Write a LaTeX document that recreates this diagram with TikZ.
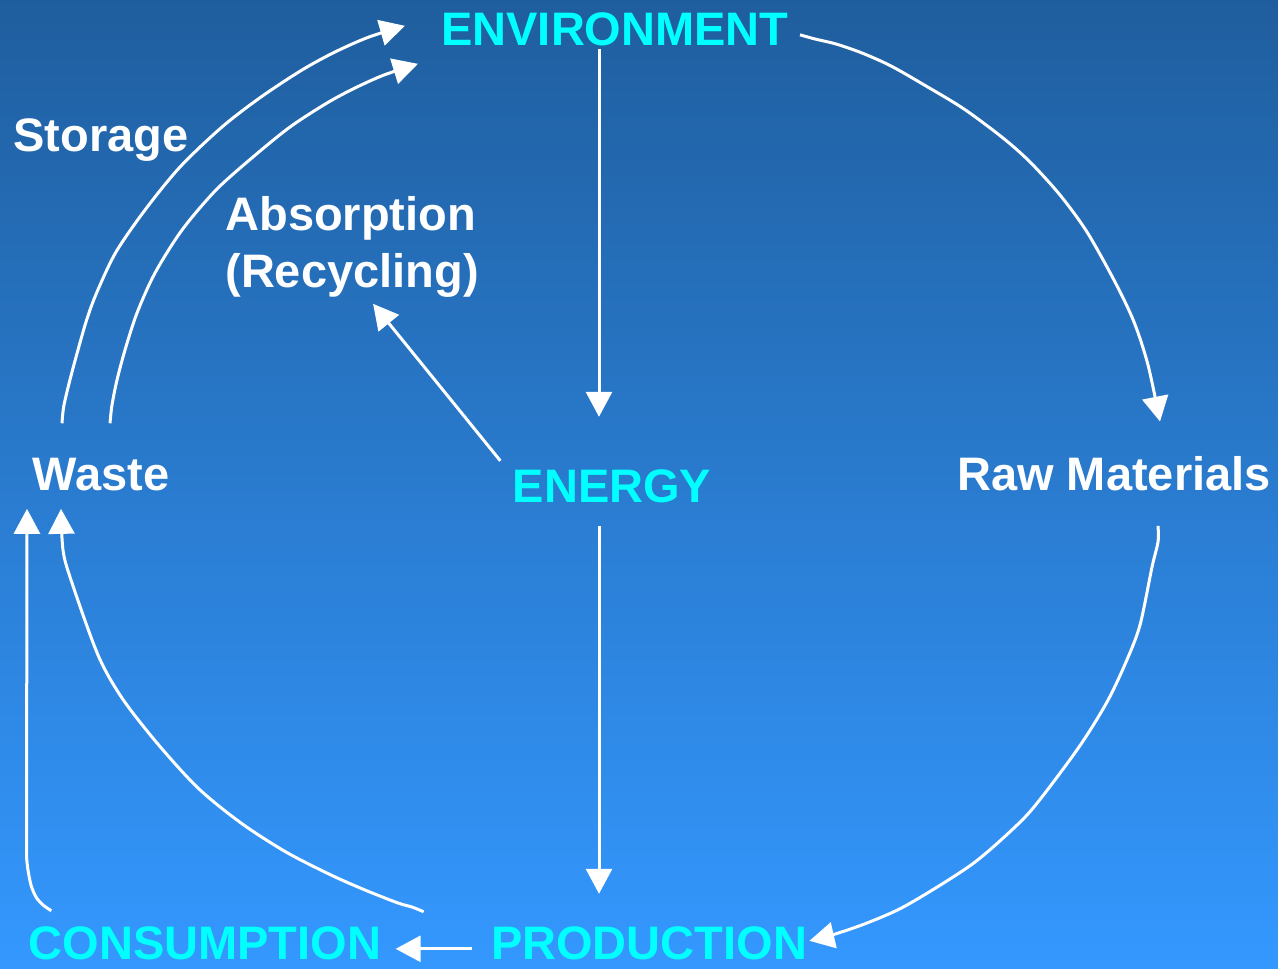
\documentclass[tikz,border=0pt]{standalone}
\usepackage{fontspec}
\setmainfont{Liberation Sans}
\usetikzlibrary{arrows.meta,calc}
\definecolor{bgtop}{RGB}{31,94,158}
\definecolor{bgbot}{RGB}{52,152,255}
\definecolor{cy}{RGB}{0,255,255}
\begin{document}
\begin{tikzpicture}[x=0.5pt,y=-0.5pt,
  lbl/.style={inner sep=0pt, anchor=base, font=\bfseries\fontsize{23.5}{28.5}\selectfont},
  cyl/.style={lbl, text=cy},
  whl/.style={lbl, text=white},
  arr/.style={draw=white, line width=1.5pt, line join=round,
    -{Triangle[length=12.5pt,width=13pt]}}]
\shade[top color=bgtop, bottom color=bgbot] (0,0) rectangle (1278,968);
\useasboundingbox (0,0) rectangle (1278,968);

% labels
\node[cyl] (env) at (615,46) {ENVIRONMENT};
\node[whl] (sto) at (101,152) {Storage};
\node[whl, align=left, anchor=north west] (abs) at (225,196) {Absorption\\(Recycling)};
\node[whl] (waste) at (101,490) {Waste};
\node[cyl] (ene) at (612,502) {ENERGY};
\node[whl] (raw) at (1114,490) {Raw Materials};
\node[cyl] (cons) at (205,959) {CONSUMPTION};
\node[cyl] (prod) at (649,959) {PRODUCTION};

% connector end points tied to nodes
\coordinate (a1s) at ($(env.south)+(-16,2)$);
\coordinate (a1e) at ($(ene.north)+(-13,-52)$);
\coordinate (a2s) at ($(ene.south)+(-13,23)$);
\coordinate (a2e) at ($(prod.north)+(-50,-32)$);
\coordinate (a3s) at ($(ene.west)+(-12,-25)$);
\coordinate (a3e) at ($(abs.south)+(21,6)$);
\coordinate (a4s) at ($(env.east)+(11,5)$);
\coordinate (a4e) at ($(raw.north)+(46,-34)$);
\coordinate (a5s) at ($(raw.south)+(44,35)$);
\coordinate (a5e) at ($(prod.east)+(2,-2)$);
\coordinate (a6s) at ($(prod.west)+(-19,6)$);
\coordinate (a6e) at ($(cons.east)+(14,6)$);
\coordinate (a7s) at ($(waste.north)+(-39,-34)$);
\coordinate (a7e) at ($(env.west)+(-36,-4)$);
\coordinate (a8s) at ($(waste.north)+(9,-34)$);
\coordinate (a8e) at ($(env.west)+(-23,34)$);
\coordinate (a9s) at ($(prod.north west)+(-67,-14)$);
\coordinate (a9e) at ($(waste.south)+(-40,18)$);
\coordinate (a10s) at ($(cons.north west)+(23,-15)$);
\coordinate (a10e) at ($(waste.south)+(-74,18)$);

% straight connectors
\draw[arr] (a1s) -- (a1e);
\draw[arr] (a2s) -- (a2e);
\draw[arr] (a3s) -- (a3e);
\draw[arr] (a6s) -- (a6e);

% ENVIRONMENT -> Raw Materials
\draw[arr] plot[smooth, tension=0.5] coordinates {(a4s) (815,39) (836,44) (862,53) (891,66) (926,86) (964,109) (1003,138) (1030,162) (1060,195) (1087,232) (1115,282) (1134,322) (1148,365) (a4e)};
% Raw Materials -> PRODUCTION
\draw[arr] plot[smooth, tension=0.5] coordinates {(a5s) (1158,542) (1152,567) (1140,625) (1126,662) (1107,702) (1079,747) (1038,802) (1015,827) (971,865) (907,905) (867,923) (832,935) (a5e)};
% Waste -> ENVIRONMENT (storage)
\draw[arr] plot[smooth, tension=0.5] coordinates {(a7s) (64,405) (72,372) (86,322) (97,292) (116,252) (145,210) (180,167) (222,127) (261,97) (302,70) (335,52) (369,37) (a7e)};
% Waste -> ENVIRONMENT (absorption)
\draw[arr] plot[smooth, tension=0.5] coordinates {(a8s) (112,405) (117,380) (125,350) (137,313) (155,273) (182,230) (216,190) (253,157) (290,127) (327,103) (355,88) (384,75) (a8e)};
% PRODUCTION -> Waste
\draw[arr] plot[smooth, tension=0.5] coordinates {(a9s) (412,907) (398,903) (365,890) (331,875) (286,852) (241,823) (198,788) (157,743) (122,698) (98,655) (71,580) (63,550) (a9e)};
% CONSUMPTION -> Waste
\draw[arr] plot[smooth, tension=0.5] coordinates {(a10s) (43,905) (36,897) (31,885) (28,870) (26.5,857)} -- (a10e);
\end{tikzpicture}
\end{document}
